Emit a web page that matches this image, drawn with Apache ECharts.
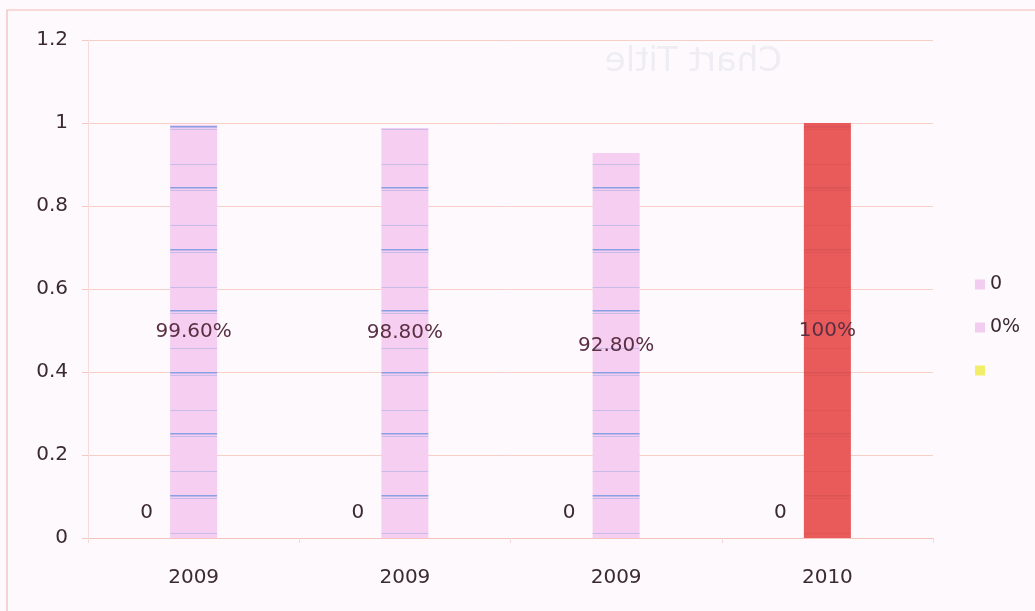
<!DOCTYPE html>
<html>
<head>
<meta charset="utf-8">
<script src="https://cdn.jsdelivr.net/npm/echarts@6/dist/echarts.min.js"></script>
<style>
html,body{margin:0;padding:0;background:#fdf9fc;}
#chart{width:1035px;height:611px;}
</style>
</head>
<body>
<div id="chart"></div>
<script>
var categories = ['2009', '2009', '2009', '2010'];
var zeroSeries = [0, 0, 0, 0];
var pctSeries = [0.996, 0.988, 0.928, 1.0];
var pctLabels = ['99.60%', '98.80%', '92.80%', '100%'];
var blankSeries = [0, 0, 0, 0];
var seriesNames = ['0', '0%', ' '];
var yTicks = ['0', '0.2', '0.4', '0.6', '0.8', '1', '1.2'];

function makePattern(bg, thick, thin) {
  var c = document.createElement('canvas');
  c.width = 8; c.height = 123;
  var g = c.getContext('2d');
  g.fillStyle = bg; g.fillRect(0, 0, 8, 123);
  [3, 64].forEach(function (y) {
    g.fillStyle = thick; g.fillRect(0, y, 8, 1.5);
    g.fillStyle = thin; g.fillRect(0, y + 3, 8, 1);
  });
  [41, 102].forEach(function (y) {
    g.fillStyle = thin; g.fillRect(0, y, 8, 1);
  });
  return c;
}
var pinkPattern = makePattern('#f6cef1', 'rgba(110,150,225,0.8)', 'rgba(130,160,225,0.4)');
var redPattern = makePattern('#e95a5b', 'rgba(150,60,60,0.18)', 'rgba(150,60,60,0.1)');

var chart = echarts.init(document.getElementById('chart'));
var fontFam = "'DejaVu Sans', sans-serif";
var txtColor = '#3b2a31';
chart.setOption({
  backgroundColor: '#fdf9fc',
  animation: false,
  graphic: [
    { type: 'rect', shape: { x: 7, y: 10, width: 1100, height: 700 }, style: { fill: 'none', stroke: '#f3b9b4', lineWidth: 1.2 }, silent: true, z: -1 },
    { type: 'text', x: 782, y: 45, scaleX: -1, style: { text: 'Chart Title', font: "34px 'DejaVu Sans', sans-serif", fill: 'rgba(180,188,208,0.2)', textAlign: 'left' }, silent: true, z: -1 }
  ],
  grid: { left: 88, right: 102, top: 40, bottom: 73 },
  legend: {
    orient: 'vertical', left: 970, top: 270, itemGap: 24,
    itemWidth: 10, itemHeight: 10, icon: 'rect',
    textStyle: { fontSize: 19, color: txtColor, fontFamily: fontFam },
    data: [
      { name: seriesNames[0], itemStyle: { color: '#f3cdef' } },
      { name: seriesNames[1], itemStyle: { color: '#f3cdef' } },
      { name: seriesNames[2], itemStyle: { color: '#f2ee6a' } }
    ]
  },
  xAxis: {
    type: 'category', data: categories,
    axisLine: { show: true, lineStyle: { color: '#f4c3bd' } },
    axisTick: { show: true, length: 5, lineStyle: { color: '#f3dada' } },
    axisLabel: { fontSize: 20, color: txtColor, fontFamily: fontFam, margin: 30 }
  },
  yAxis: {
    type: 'value', min: 0, max: 1.2, interval: 0.2,
    axisLine: { show: true, lineStyle: { color: '#f6dcdc' } },
    axisTick: { show: true, length: 6, lineStyle: { color: '#f4c9c3' } },
    axisLabel: { fontSize: 20, color: txtColor, fontFamily: fontFam, margin: 20,
      formatter: function (v) { var i = Math.round(v / 0.2); return yTicks[i]; } },
    splitLine: { lineStyle: { color: '#f6cfc8' } }
  },
  series: [
    { name: seriesNames[0], type: 'bar', data: zeroSeries, barWidth: 47, barGap: '0%',
      itemStyle: { color: '#f3cdef' },
      label: { show: true, position: 'top', distance: 15, fontSize: 20, color: txtColor, fontFamily: fontFam, formatter: '0' } },
    { name: seriesNames[1], type: 'bar', barWidth: 47, barGap: '0%',
      data: pctSeries.map(function (v, i) {
        return i === 3 ? { value: v, itemStyle: { color: { image: redPattern, repeat: 'repeat' } } } : v;
      }),
      itemStyle: { color: { image: pinkPattern, repeat: 'repeat' } },
      label: { show: true, position: 'inside', fontSize: 20, color: '#5a2f42', fontFamily: fontFam,
        formatter: function (p) { return pctLabels[p.dataIndex]; } } },
    { name: seriesNames[2], type: 'bar', data: blankSeries, barWidth: 47, barGap: '0%',
      itemStyle: { color: '#f2ee6a' } }
  ]
});
</script>
</body>
</html>
